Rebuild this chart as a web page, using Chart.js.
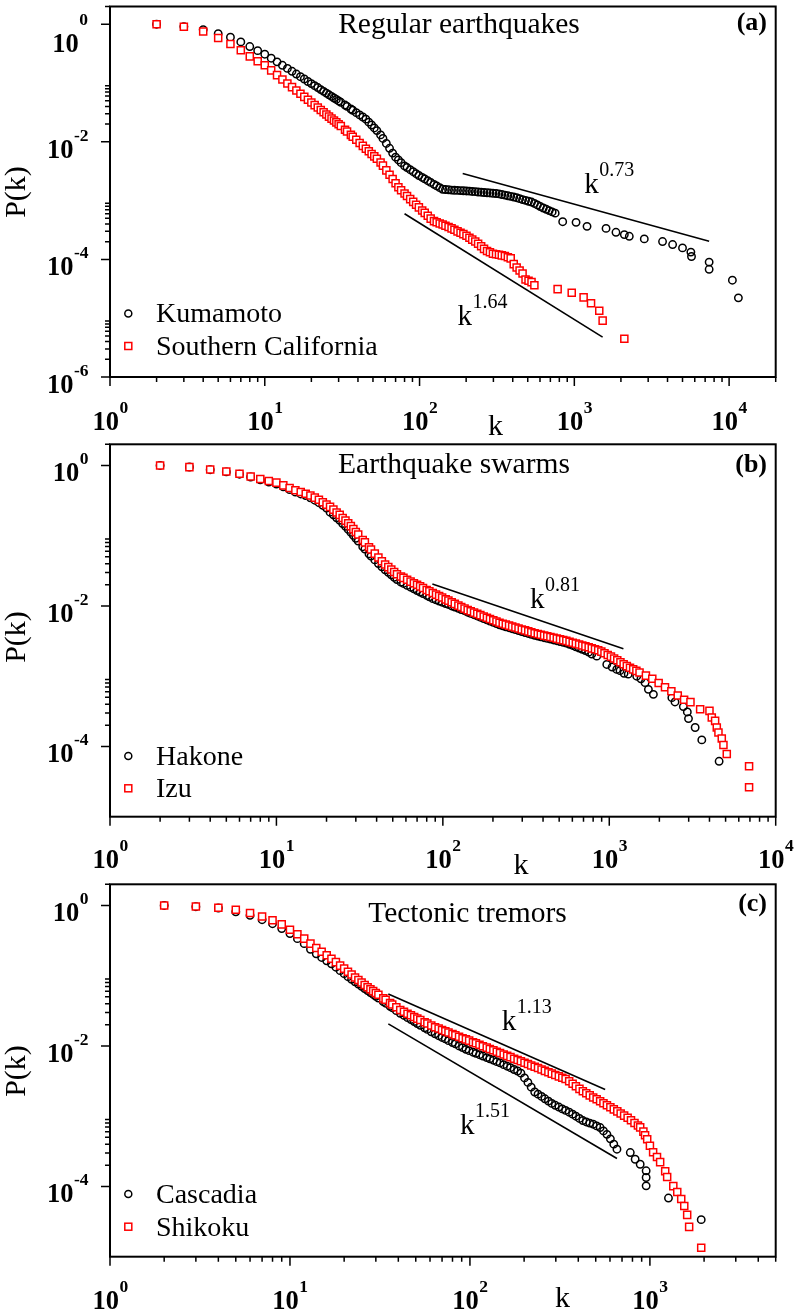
<!DOCTYPE html>
<html>
<head>
<meta charset="utf-8">
<title>P(k) distributions</title>
<script src="https://cdn.jsdelivr.net/npm/chart.js@4.4.1/dist/chart.umd.min.js"></script>
<style>
  html, body { margin: 0; padding: 0; background: #fff; }
  #page { position: relative; width: 797px; height: 1313px; }
  #page canvas { position: absolute; left: 0; top: 0; }
</style>
</head>
<body>
<div id="page">
  <canvas id="chartA" width="797" height="1313"></canvas>
  <canvas id="chartB" width="797" height="1313"></canvas>
  <canvas id="chartC" width="797" height="1313"></canvas>
</div>
<script>
const SERIF = '"Liberation Serif", "Times New Roman", serif';

// k values where the densely sampled part of every curve is read
const kDense = [2, 3, 4, 5, 6, 7, 8, 9, 10, 11, 12, 13, 14, 15, 16, 17, 18, 19, 20,
  21, 22, 23, 24, 25, 26, 27, 28, 29, 30,
  31, 33, 34, 36, 37, 39, 41, 43, 45, 47, 49, 51, 53, 56, 58, 61, 64, 67, 70, 73,
  76, 80, 83, 87, 91, 95, 99, 104, 108, 113, 118, 124, 129, 135, 141, 147, 154, 161, 168, 176,
  184, 192, 201, 210, 219, 229, 239, 250, 261, 273, 285, 298, 312, 326, 340, 356, 372, 388, 406, 424,
  443, 463, 484, 506, 529, 552, 577, 603, 630, 659, 688, 719, 752, 785, 821, 858, 896, 936, 979, 1023,
  1069, 1117, 1167, 1220, 1275, 1332, 1392, 1455, 1520];

// (a) Regular earthquakes
const kumamotoP = [1, 0.91, 0.81, 0.69, 0.60, 0.50, 0.417, 0.355, 0.309,
  0.264, 0.229, 0.2, 0.177, 0.158, 0.142, 0.128, 0.117, 0.106, 0.0977,
  0.0902, 0.0836, 0.0773, 0.0721, 0.0673, 0.063, 0.0592, 0.0556, 0.0525, 0.0495,
  0.047, 0.0422, 0.0401, 0.0361, 0.0344, 0.0313, 0.0286, 0.0264, 0.0243, 0.0216,
  0.0193, 0.0172, 0.0155, 0.0131, 0.0114, 0.00938, 0.00776, 0.00643, 0.00548, 0.00491,
  0.00442, 0.00389, 0.00365, 0.00335, 0.0031, 0.00287, 0.00267, 0.00248, 0.00234, 0.00218,
  0.00204, 0.00189, 0.00178, 0.00166, 0.00156, 0.00154, 0.00153, 0.00151, 0.0015, 0.00149,
  0.00148, 0.00147, 0.00146, 0.00145, 0.00143, 0.00142, 0.0014, 0.00139, 0.00137, 0.00136,
  0.00135, 0.00133, 0.00132, 0.0013, 0.00127, 0.00124, 0.00121, 0.00118, 0.00115, 0.00112,
  0.00108, 0.00104, 0.00101, 0.000975, 0.000944, 0.000895, 0.000843, 0.000793, 0.000748, 0.000711,
  0.000676, 0.000643, 0.000612];
const kumamotoTailK = [841, 1026, 1208, 1603, 1858, 2104, 2265, 2831, 3715, 4315, 5000, 5662, 5715, 7430, 7430, 10500, 11480];
const kumamotoTailP = [4.38e-4, 4.27e-4, 3.65e-4, 3.37e-4, 2.89e-4, 2.64e-4, 2.47e-4, 2.23e-4, 2.01e-4, 1.79e-4, 1.57e-4, 1.33e-4, 1.12e-4, 8.99e-5, 6.78e-5, 4.43e-5, 2.22e-5];

const socalP = [1, 0.902, 0.754, 0.581, 0.459, 0.36, 0.284, 0.234, 0.2,
  0.164, 0.136, 0.115, 0.0984, 0.0851, 0.0745, 0.0656, 0.0581, 0.0518, 0.0466,
  0.0421, 0.0382, 0.0347, 0.0318, 0.0291, 0.0268, 0.0248, 0.023, 0.0214, 0.0199,
  0.0186, 0.016, 0.015, 0.0131, 0.0122, 0.0108, 0.00953, 0.00853, 0.00764, 0.00689,
  0.00622, 0.00565, 0.00516, 0.00445, 0.00393, 0.00327, 0.00275, 0.00233, 0.00197, 0.00169,
  0.0015, 0.00132, 0.0012, 0.00106, 0.000951, 0.000851, 0.000767, 0.000679, 0.000619, 0.000551,
  0.000494, 0.000448, 0.000429, 0.000409, 0.000391, 0.000374, 0.000356, 0.000337, 0.000319, 0.0003,
  0.000283, 0.000269, 0.000252, 0.000234, 0.000217, 0.000201, 0.000185, 0.000167, 0.000151, 0.000139,
  0.000132, 0.000125, 0.000122, 0.00012, 0.000117, 0.000114, 0.000109, 0.000104, 8.32e-5, 7.28e-5,
  6.47e-5, 5.75e-5, 4.54e-5, 4.32e-5, 4.11e-5, 3.64e-5];
const socalTailK = [780, 962, 1148, 1282, 1449, 1524, 2104];
const socalTailP = [3.12e-5, 2.7e-5, 2.26e-5, 1.79e-5, 1.34e-5, 9.1e-6, 4.47e-6];

const fitA1K = [190, 7430];      // k^0.73
const fitA1P = [2.9e-3, 2.04e-4];
const fitA2K = [80, 1523];       // k^1.64
const fitA2P = [5.97e-4, 4.77e-6];

// (b) Earthquake swarms
const hakoneP = [1, 0.95, 0.87, 0.81, 0.75, 0.685, 0.625, 0.58, 0.543,
  0.495, 0.452, 0.417, 0.393, 0.372, 0.347, 0.32, 0.295, 0.271, 0.248,
  0.216, 0.198, 0.18, 0.166, 0.149, 0.136, 0.123, 0.112, 0.101, 0.092,
  0.0841, 0.0697, 0.0646, 0.0551, 0.0512, 0.0452, 0.0401, 0.036, 0.0327, 0.0301,
  0.0277, 0.0256, 0.0238, 0.0218, 0.0209, 0.0196, 0.0185, 0.0175, 0.0166, 0.0158,
  0.015, 0.0141, 0.0135, 0.0127, 0.0122, 0.0117, 0.0113, 0.0108, 0.0105, 0.01,
  0.00966, 0.00923, 0.00889, 0.00855, 0.00815, 0.00783, 0.0075, 0.0072, 0.00692, 0.00661,
  0.00634, 0.0061, 0.00585, 0.00561, 0.0054, 0.00521, 0.00506, 0.0049, 0.00474, 0.0046,
  0.00446, 0.00433, 0.00419, 0.00406, 0.00394, 0.00382, 0.00372, 0.00363, 0.00353, 0.00345,
  0.00337, 0.00328, 0.0032, 0.00312, 0.00304, 0.00296, 0.00284, 0.00274, 0.00262, 0.00252,
  0.00242, 0.00232, 0.0022, 0.00207];
const hakoneTailK = [841, 966, 1040, 1109, 1160, 1227, 1300, 1462, 1550, 1641, 1718, 1841, 2377, 2483, 2786, 2944, 2992, 3281, 3597, 4571];
const hakoneTailP = [1.93e-3, 1.47e-3, 1.35e-3, 1.25e-3, 1.2e-3, 1.1e-3, 1.07e-3, 1.0e-3, 9.2e-4, 8.09e-4, 6.5e-4, 5.52e-4, 4.95e-4, 4.3e-4, 3.69e-4, 3.1e-4, 2.49e-4, 1.86e-4, 1.24e-4, 6.15e-5];

const izuP = [1, 0.946, 0.877, 0.822, 0.762, 0.698, 0.64, 0.6, 0.569,
  0.521, 0.478, 0.443, 0.419, 0.395, 0.374, 0.348, 0.325, 0.3, 0.277,
  0.257, 0.235, 0.214, 0.198, 0.179, 0.164, 0.15, 0.137, 0.124, 0.113,
  0.104, 0.0867, 0.0804, 0.0686, 0.0637, 0.0556, 0.0488, 0.0433, 0.0389, 0.0357,
  0.033, 0.0304, 0.0283, 0.0262, 0.0251, 0.0236, 0.0222, 0.021, 0.02, 0.019,
  0.018, 0.0169, 0.0162, 0.0153, 0.0145, 0.0138, 0.0132, 0.0124, 0.0119, 0.0113,
  0.0107, 0.0101, 0.00964, 0.00916, 0.00873, 0.0084, 0.00804, 0.00771, 0.00741, 0.00708,
  0.00679, 0.00653, 0.00627, 0.00601, 0.00578, 0.00558, 0.00542, 0.00525, 0.00508, 0.00493,
  0.00478, 0.00463, 0.00449, 0.00435, 0.00422, 0.00409, 0.00398, 0.00389, 0.00378, 0.0037,
  0.00361, 0.00352, 0.00343, 0.00334, 0.00326, 0.00318, 0.00308, 0.003, 0.00291, 0.00282,
  0.00274, 0.00266, 0.00258, 0.00249, 0.00242, 0.00234, 0.00224, 0.00212, 0.002, 0.0019,
  0.00179, 0.00169, 0.00158, 0.00148, 0.00139, 0.00132, 0.00125, 0.00119, 0.00113];
const izuTailK = [1660, 1813, 1980, 2162, 2361, 2579, 2816, 3075, 3516, 4000, 4130, 4325, 4426, 4529, 4742, 4853, 5082, 6918, 6918];
const izuTailP = [0.00102, 0.000918, 0.000802, 0.000698, 0.00061, 0.000531, 0.000463, 0.000428, 3.39e-4, 3.21e-4, 2.58e-4, 2.31e-4, 1.86e-4, 1.58e-4, 1.3e-4, 1.05e-4, 7.8e-5, 5.22e-5, 2.63e-5];

const fitBK = [86.5, 1216];      // k^0.81
const fitBP = [2.06e-2, 2.45e-3];

// (c) Tectonic tremors
const cascadiaP = [1, 0.96, 0.92, 0.813, 0.724, 0.627, 0.55, 0.468, 0.398,
  0.337, 0.286, 0.238, 0.205, 0.182, 0.163, 0.148, 0.132, 0.118, 0.107,
  0.0968, 0.0887, 0.0817, 0.0759, 0.0705, 0.0656, 0.0615, 0.0575, 0.0541, 0.0508,
  0.048, 0.0427, 0.0406, 0.0367, 0.035, 0.0318, 0.0291, 0.0272, 0.0253, 0.0237,
  0.0222, 0.0208, 0.0197, 0.0181, 0.0172, 0.0159, 0.0149, 0.014, 0.0132, 0.0126,
  0.0119, 0.0112, 0.0107, 0.01, 0.00948, 0.00895, 0.00857, 0.00815, 0.00785, 0.0075,
  0.00718, 0.00683, 0.00655, 0.00627, 0.00598, 0.00574, 0.00542, 0.00515, 0.0049, 0.00462,
  0.0044, 0.0041, 0.00351, 0.00303, 0.00259, 0.00221, 0.00206, 0.00191, 0.00177, 0.00164,
  0.00152, 0.00143, 0.00135, 0.00127, 0.00121, 0.00114, 0.00107, 0.001, 0.000929, 0.000867,
  0.000828, 0.000798, 0.000769, 0.000728, 0.000689, 0.000618, 0.000552, 0.000476, 0.0004];
const cascadiaTailK = [656, 778, 828, 883, 953, 953, 953, 1268, 1928];
const cascadiaTailP = [3.39e-4, 3.04e-4, 2.44e-4, 2.07e-4, 1.67e-4, 1.34e-4, 1.02e-4, 6.84e-5, 3.37e-5];

const shikokuP = [1, 0.968, 0.927, 0.869, 0.78, 0.698, 0.614, 0.538, 0.452,
  0.389, 0.337, 0.286, 0.248, 0.219, 0.195, 0.174, 0.156, 0.139, 0.126,
  0.114, 0.104, 0.0944, 0.0869, 0.0798, 0.0736, 0.0685, 0.0641, 0.0603, 0.0566,
  0.0535, 0.0476, 0.0454, 0.0409, 0.039, 0.0355, 0.0325, 0.0306, 0.0288, 0.0273,
  0.0259, 0.0245, 0.0234, 0.0218, 0.0209, 0.0195, 0.0185, 0.0177, 0.0169, 0.0162,
  0.0155, 0.0148, 0.0142, 0.0135, 0.0129, 0.0124, 0.0119, 0.0113, 0.0109, 0.0104,
  0.00993, 0.00946, 0.00906, 0.00867, 0.00828, 0.00794, 0.00757, 0.00723, 0.00693, 0.00659,
  0.00631, 0.00605, 0.00577, 0.00552, 0.00528, 0.00505, 0.00484, 0.00461, 0.00442, 0.00423,
  0.00404, 0.00386, 0.00369, 0.00352, 0.00338, 0.00315, 0.00289, 0.00267, 0.00245, 0.00226,
  0.00212, 0.00198, 0.00185, 0.00174, 0.00163, 0.00153, 0.00143, 0.00134, 0.00125, 0.00117,
  0.00109, 0.00102, 0.000953, 0.000875, 0.000802, 0.000736];
const shikokuTailK = [883, 920, 940, 966, 1000, 1042, 1095, 1140, 1216, 1247, 1349, 1419, 1493, 1552, 1611, 1652, 1928];
const shikokuTailP = [6.93e-4, 6.03e-4, 5.37e-4, 4.69e-4, 3.8e-4, 3.07e-4, 2.63e-4, 2.22e-4, 1.65e-4, 1.36e-4, 1.01e-4, 8.34e-5, 6.64e-5, 5.27e-5, 3.94e-5, 2.66e-5, 1.34e-5];

const fitC1K = [35.2, 564];      // k^1.13
const fitC1P = [5.49e-2, 2.4e-3];
const fitC2K = [35.2, 656];      // k^1.51
const fitC2P = [2.06e-2, 2.5e-4];

// decade exponents carrying a tick label
const xDecadesA = [0, 1, 2, 3, 4];
const yDecadesA = [0, -2, -4, -6];
const xDecadesB = [0, 1, 2, 3, 4];
const yDecadesB = [0, -2, -4];
const xDecadesC = [0, 1, 2, 3];
const yDecadesC = [0, -2, -4];

const panels = [
  {
    id: 'chartA', top: 4, bottom: 377, xMax: 2e4, yMin: 1e-6,
    black: { label: 'Kumamoto', p: kumamotoP, tailK: kumamotoTailK, tailP: kumamotoTailP },
    red: { label: 'Southern California', p: socalP, tailK: socalTailK, tailP: socalTailP },
    fits: [
      { k: fitA1K, p: fitA1P, exp: '0.73', at: [1160, 1.37e-3] },
      { k: fitA2K, p: fitA2P, exp: '1.64', at: [176, 7.7e-6] }
    ],
    xDecades: xDecadesA, yDecades: yDecadesA,
    title: 'Regular earthquakes', titleX: 459, titleY: 33, letter: '(a)', letterY: 30,
    legendY: [313.5, 346], kTitle: [495.5, 435], pTitleY: 192, xLabelDy: 53, topLabelDrop: true
  },
  {
    id: 'chartB', top: 444.3, bottom: 816.7, xMax: 1e4, yMin: 1e-5,
    black: { label: 'Hakone', p: hakoneP, tailK: hakoneTailK, tailP: hakoneTailP },
    red: { label: 'Izu', p: izuP, tailK: izuTailK, tailP: izuTailP },
    fits: [
      { k: fitBK, p: fitBP, exp: '0.81', at: [334, 9.4e-3] }
    ],
    xDecades: xDecadesB, yDecades: yDecadesB,
    title: 'Earthquake swarms', titleX: 454, titleY: 473, letter: '(b)', letterY: 472,
    legendY: [756, 788.3], kTitle: [521, 874], pTitleY: 637, xLabelDy: 51.5, topLabelDrop: false
  },
  {
    id: 'chartC', top: 884.3, bottom: 1256.7, xMax: 5e3, yMin: 1e-5,
    black: { label: 'Cascadia', p: cascadiaP, tailK: cascadiaTailK, tailP: cascadiaTailP },
    red: { label: 'Shikoku', p: shikokuP, tailK: shikokuTailK, tailP: shikokuTailP },
    fits: [
      { k: fitC1K, p: fitC1P, exp: '1.13', at: [150, 1.7e-2] },
      { k: fitC2K, p: fitC2P, exp: '1.51', at: [88, 5.5e-4] }
    ],
    xDecades: xDecadesC, yDecades: yDecadesC,
    title: 'Tectonic tremors', titleX: 467.5, titleY: 921.5, letter: '(c)', letterY: 911,
    legendY: [1194, 1226.7], kTitle: [562.5, 1307], pTitleY: 1071, xLabelDy: 52, topLabelDrop: false
  }
];

function points(ks, ps) {
  return ks.map((k, i) => ({ x: k, y: ps[i] }));
}

// dense part on the shared k list, then the sparse tail
function seriesPoints(s) {
  const ks = kDense.slice(0, s.p.length).concat(s.tailK);
  const ps = s.p.concat(s.tailP);
  return points(ks, ps);
}

// text with a raised exponent
function drawSup(ctx, base, sup, x, y, baseFont, supFont, raise, align) {
  ctx.font = baseFont;
  const w1 = ctx.measureText(base).width;
  ctx.font = supFont;
  const w2 = ctx.measureText(sup).width;
  let x0 = x;
  if (align === 'center') x0 = x - (w1 + w2) / 2;
  if (align === 'right') x0 = x - w1 - w2;
  ctx.textAlign = 'left';
  ctx.textBaseline = 'alphabetic';
  ctx.font = baseFont;
  ctx.fillText(base, x0, y);
  ctx.font = supFont;
  ctx.fillText(sup, x0 + w1 + 0.5, y - raise);
}

function decorations(p) {
  return {
    id: 'decor',
    afterDraw(chart) {
      const ctx = chart.ctx;
      const a = chart.chartArea;
      const xs = chart.scales.x;
      const ys = chart.scales.y;
      ctx.save();
      ctx.strokeStyle = '#000';
      ctx.fillStyle = '#000';

      // frame
      ctx.lineWidth = 2;
      ctx.strokeRect(a.left, a.top, a.right - a.left, a.bottom - a.top);

      // outward ticks
      ctx.lineWidth = 1.5;
      ctx.beginPath();
      for (let e = 0; e <= Math.ceil(Math.log10(xs.max)); e++) {
        for (let m = 1; m <= 9; m++) {
          const v = m * Math.pow(10, e);
          if (v > xs.max * 1.001) break;
          const px = xs.getPixelForValue(v);
          ctx.moveTo(px, a.bottom);
          ctx.lineTo(px, a.bottom + (m === 1 ? 9 : 5));
        }
      }
      for (let e = Math.round(Math.log10(ys.min)); e <= 0; e++) {
        if (e % 2 !== 0) continue;
        for (let m = 1; m <= 9; m++) {
          const v = m * Math.pow(10, e);
          if (v > ys.max * 1.001) break;
          const py = ys.getPixelForValue(v);
          ctx.moveTo(a.left, py);
          ctx.lineTo(a.left - (m === 1 ? 9 : 5), py);
        }
      }
      ctx.stroke();

      // tick labels
      const bold = 'bold 26.5px ' + SERIF;
      const boldSup = 'bold 17.5px ' + SERIF;
      p.xDecades.forEach(e => {
        const px = xs.getPixelForValue(Math.pow(10, e));
        drawSup(ctx, '10', String(e), px, a.bottom + p.xLabelDy, bold, boldSup, 17, 'center');
      });
      p.yDecades.forEach(e => {
        const py = ys.getPixelForValue(Math.pow(10, e));
        const tag = String(e);
        if (e === 0 && p.topLabelDrop) {
          ctx.font = bold;
          const w1 = ctx.measureText('10').width;
          ctx.font = boldSup;
          const w2 = ctx.measureText(tag).width;
          ctx.textAlign = 'left';
          ctx.font = bold;
          ctx.fillText('10', 88 - w1 - w2 - 0.5, py + 28);
          ctx.font = boldSup;
          ctx.fillText(tag, 88 - w2, py + 1);
        } else {
          drawSup(ctx, '10', tag, 88, py + 16, bold, boldSup, 17, 'right');
        }
      });

      // axis titles
      ctx.font = '30px ' + SERIF;
      ctx.textAlign = 'center';
      ctx.fillText('k', p.kTitle[0], p.kTitle[1]);
      ctx.save();
      ctx.translate(17, p.pTitleY);
      ctx.rotate(-Math.PI / 2);
      ctx.textBaseline = 'middle';
      ctx.fillText('P(k)', 0, 0);
      ctx.restore();

      // panel title and letter
      ctx.textAlign = 'center';
      ctx.textBaseline = 'alphabetic';
      ctx.font = '29.5px ' + SERIF;
      ctx.fillText(p.title, p.titleX, p.titleY);
      ctx.textAlign = 'right';
      ctx.font = 'bold 26px ' + SERIF;
      ctx.fillText(p.letter, 767, p.letterY);

      // power-law labels
      p.fits.forEach(f => {
        const fx = xs.getPixelForValue(f.at[0]);
        const fy = ys.getPixelForValue(f.at[1]);
        drawSup(ctx, 'k', f.exp, fx, fy, '29px ' + SERIF, '20px ' + SERIF, 17, 'left');
      });

      // legend
      ctx.lineWidth = 1.5;
      ctx.strokeStyle = '#000';
      ctx.beginPath();
      ctx.arc(128.3, p.legendY[0], 3.5, 0, Math.PI * 2);
      ctx.stroke();
      ctx.strokeStyle = '#ff0000';
      ctx.strokeRect(128.3 - 3.5, p.legendY[1] - 3.5, 7, 7);
      ctx.font = '28px ' + SERIF;
      ctx.textAlign = 'left';
      ctx.fillStyle = '#000';
      ctx.fillText(p.black.label, 156, p.legendY[0] + 8.8);
      ctx.fillText(p.red.label, 156, p.legendY[1] + 8.8);

      ctx.restore();
    }
  };
}

panels.forEach(p => {
  const datasets = p.fits.map(f => ({
    data: points(f.k, f.p),
    showLine: true,
    borderColor: '#000',
    borderWidth: 1.6,
    pointRadius: 0,
    order: 3
  }));
  datasets.push({
    label: p.black.label,
    data: seriesPoints(p.black),
    pointStyle: 'circle',
    pointRadius: 3.7,
    pointHoverRadius: 3.7,
    borderWidth: 1.5,
    borderColor: '#000',
    backgroundColor: 'rgba(0,0,0,0)',
    order: 2
  });
  datasets.push({
    label: p.red.label,
    data: seriesPoints(p.red),
    pointStyle: 'rect',
    pointRadius: 5,
    pointHoverRadius: 5,
    borderWidth: 1.5,
    borderColor: '#ff0000',
    backgroundColor: '#ffffff',
    order: 1
  });

  new Chart(document.getElementById(p.id), {
    type: 'scatter',
    data: { datasets: datasets },
    options: {
      responsive: false,
      maintainAspectRatio: false,
      animation: false,
      events: [],
      layout: {
        padding: { left: 110, right: 797 - 775.7, top: p.top, bottom: 1313 - p.bottom }
      },
      scales: {
        x: { type: 'logarithmic', display: false, bounds: 'data', min: 1, max: p.xMax },
        y: { type: 'logarithmic', display: false, bounds: 'data', min: p.yMin, max: 2 }
      },
      plugins: {
        legend: { display: false },
        tooltip: { enabled: false }
      }
    },
    plugins: [decorations(p)]
  });
});
</script>
</body>
</html>
